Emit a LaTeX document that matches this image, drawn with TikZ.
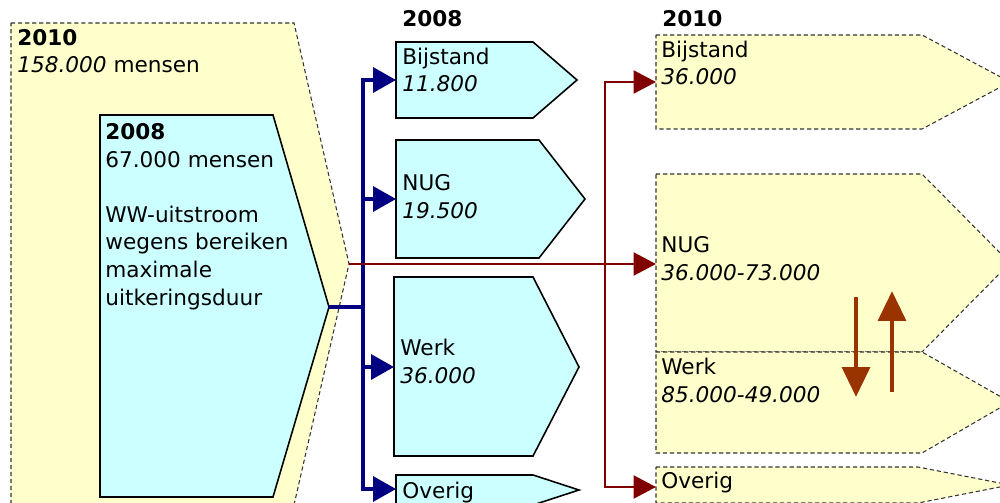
\documentclass[tikz,border=0pt]{standalone}
\usepackage{fontspec}
\setmainfont{DejaVu Sans}
\usetikzlibrary{arrows.meta}

\definecolor{paleyellow}{RGB}{255,255,204}
\definecolor{palecyan}{RGB}{204,255,255}
\definecolor{flownavy}{RGB}{0,0,128}
\definecolor{flowred}{RGB}{128,0,0}
\definecolor{swingbrown}{RGB}{153,51,0}

\tikzset{
	box10/.style={draw=black!80, fill=paleyellow, line width=0.6pt, dash pattern=on 2.4pt off 1.6pt},
	box08/.style={draw=black, fill=palecyan, line width=0.9pt},
	txt/.style={anchor=base west, inner sep=0pt, align=left},
	flow08/.style={draw=flownavy, line width=2pt, -{Triangle[length=0.46cm,width=0.5cm]}},
	flow10/.style={draw=flowred, line width=1.4pt, -{Triangle[length=0.45cm,width=0.46cm]}},
	swing/.style={draw=swingbrown, line width=2.8pt, -{Triangle[length=0.6cm,width=0.55cm]}}
}

\begin{document}
\begin{tikzpicture}[x=0.02cm, y=-0.02cm, font=\fontsize{12.3pt}{15.7pt}\selectfont]
			\useasboundingbox (0,0) rectangle (1000,503);
			\clip (0,0) rectangle (1000,503);
			
			% 2010 en 2008 instroom (tekst staat op de laatste regel)
			\filldraw[box10] (11,23) -- (294,23) -- (349,264) -- (294,505) -- (11,505) -- cycle;
			\filldraw[box08] (100,115) -- (273,115) -- (329,307) -- (273,497) -- (100,497) -- cycle;
			\coordinate (oldtip) at (349,264);
			\coordinate (wwtip) at (329,307);
			
			\node[txt] (t10) at (17,73) {\textbf{2010}\\\textit{158.000} mensen};
			\node[txt] (t08) at (105,305) {\textbf{2008}\\67.000 mensen\\[15.7pt]WW-uitstroom\\wegens bereiken\\maximale\\uitkeringsduur};
			
			% 2008 bestemmingen
			\node[txt, font=\fontsize{12.3pt}{15.7pt}\bfseries] (h08) at (402,27) {2008};
			\filldraw[box08] (396,42) -- (533,42) -- (577,80) -- (533,118) -- (396,118) -- cycle;
			\filldraw[box08] (396,140) -- (539,140) -- (585,199) -- (539,258) -- (396,258) -- cycle;
			\filldraw[box08] (394,277) -- (533,277) -- (579,367) -- (533,456) -- (394,456) -- cycle;
			\filldraw[box08] (396,475) -- (533,475) -- (579,490) -- (533,505) -- (396,505) -- cycle;
			\coordinate (bij08) at (396,80);
			\coordinate (nug08) at (396,199);
			\coordinate (werk08) at (394,367);
			\coordinate (ov08) at (396,489);
			
			\node[txt] (bijt08) at (402,92) {Bijstand\\\textit{11.800}};
			\node[txt] (nugt08) at (402,218) {NUG\\\textit{19.500}};
			\node[txt] (werkt08) at (400,383) {Werk\\\textit{36.000}};
			\node[txt] (ovt08) at (402,498) {Overig};
			
			% 2010 bestemmingen
			\node[txt, font=\fontsize{12.3pt}{15.7pt}\bfseries] (h10) at (662,27) {2010};
			\filldraw[box10] (656,35) -- (922,35) -- (1010,82) -- (922,129) -- (656,129) -- cycle;
			\filldraw[box10] (656,174) -- (922,174) -- (1010,263) -- (922,352) -- (656,352) -- cycle;
			\filldraw[box10] (656,352) -- (922,352) -- (1010,402) -- (922,453) -- (656,453) -- cycle;
			\filldraw[box10] (656,467) -- (918,467) -- (1010,485) -- (918,503) -- (656,503) -- cycle;
			\coordinate (bij10) at (656,82);
			\coordinate (nug10) at (656,264);
			\coordinate (ov10) at (656,487);
			
			\node[txt] (bijt10) at (661,85) {Bijstand\\\textit{36.000}};
			\node[txt] (nugt10) at (661,280) {NUG\\\textit{36.000-73.000}};
			\node[txt] (werkt10) at (661,402) {Werk\\\textit{85.000-49.000}};
			\node[txt] (ovt10) at (661,488) {Overig};
			
			% verbindingen
			\coordinate (bsplit) at (363,307);
			\coordinate (rsplit) at (605,264);
			\draw[flow08] (wwtip) -- (bsplit) |- (bij08);
			\draw[flow08] (wwtip) -- (bsplit) |- (nug08);
			\draw[flow08] (wwtip) -- (bsplit) |- (werk08);
			\draw[flow08] (wwtip) -- (bsplit) |- (ov08);
			\draw[flow10] (oldtip) -- (nug10);
			\draw[flow10] (rsplit) |- (bij10);
			\draw[flow10] (rsplit) |- (ov10);
			
			% verschuiving NUG / Werk
			\coordinate (dntop) at (856,297);
			\coordinate (dnend) at (856,397);
			\coordinate (upbot) at (892,392);
			\coordinate (upend) at (892,291);
			\draw[swing] (dntop) -- (dnend);
			\draw[swing] (upbot) -- (upend);
		\end{tikzpicture}
\end{document}
